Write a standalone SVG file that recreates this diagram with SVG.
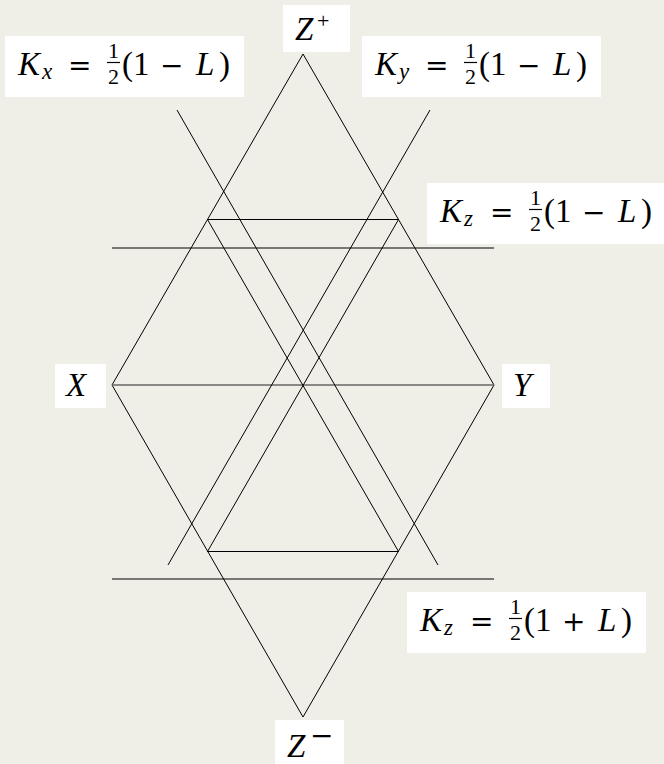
<svg xmlns="http://www.w3.org/2000/svg" width="664" height="764" viewBox="0 0 664 764">
<style>
.bg{fill:#efeee7}
.box{fill:#ffffff}
.ln{stroke:#000;stroke-width:1;fill:none}
.axis{stroke:#666;stroke-width:1.6;fill:none}
.bar{stroke:#000;stroke-width:1.2}
.t{font-family:'Liberation Serif','DejaVu Serif',serif;fill:#000;font-size:33px}
.it{font-style:italic}
.op{font-family:'DejaVu Serif','Liberation Serif',serif;font-size:28px;font-style:normal}
.sm{font-family:'Liberation Serif','DejaVu Serif',serif;fill:#000;font-size:22px;text-anchor:middle}
.sub{font-size:23px;font-style:italic}
</style>
<rect class="bg" x="0" y="0" width="664" height="764"/>
<g id="connectors">
<polygon class="ln" points="303,54 494,385 303,717 112,385"/>
<line class="axis" x1="112" y1="385" x2="494" y2="385"/>
<line class="ln" x1="112" y1="248" x2="494" y2="248"/>
<line class="ln" x1="112" y1="579" x2="494" y2="579"/>
<line class="ln" x1="207.5" y1="219.5" x2="398.5" y2="219.5"/>
<line class="ln" x1="207.5" y1="551.5" x2="398.5" y2="551.5"/>
<line class="ln" x1="207.5" y1="219.5" x2="398.5" y2="551.5"/>
<line class="ln" x1="398.5" y1="219.5" x2="207.5" y2="551.5"/>
<line class="ln" x1="177" y1="110" x2="438" y2="565"/>
<line class="ln" x1="430" y1="110" x2="168" y2="565"/>
</g>
<g id="Zplus">
<rect class="box" x="283" y="5" width="67" height="47"/>
<text class="t" y="40"><tspan class="it" x="295">Z</tspan><tspan font-size="22" x="317" y="28">+</tspan></text>
</g>
<g id="Zminus">
<rect class="box" x="275" y="720" width="69" height="44"/>
<text class="t" y="757"><tspan class="it" x="287">Z</tspan><tspan class="op" font-size="19" x="310" y="745">−</tspan></text>
</g>
<g id="X">
<rect class="box" x="55" y="364" width="51" height="44"/>
<text class="t it" x="66" y="396">X</text>
</g>
<g id="Y">
<rect class="box" x="502" y="364" width="48" height="44"/>
<text class="t it" x="513" y="396">Y</text>
</g>
<g id="Kx" transform="translate(5,36)">
<rect class="box" x="0" y="0" width="239" height="61"/>
<text class="t" y="39"><tspan class="it" x="13">K</tspan><tspan class="sub" x="37" y="43">x</tspan><tspan class="op" x="63" y="39">=</tspan><tspan x="117">(1</tspan><tspan class="op" x="155">−</tspan><tspan class="it" x="191">L</tspan><tspan x="214">)</tspan></text>
<text class="sm" x="108.5" y="22">1</text>
<line class="bar" x1="102" y1="26.5" x2="115" y2="26.5"/>
<text class="sm" x="108.5" y="48">2</text>
</g>
<g id="Ky" transform="translate(362,36)">
<rect class="box" x="0" y="0" width="239" height="61"/>
<text class="t" y="39"><tspan class="it" x="13">K</tspan><tspan class="sub" x="37" y="43">y</tspan><tspan class="op" x="63" y="39">=</tspan><tspan x="117">(1</tspan><tspan class="op" x="155">−</tspan><tspan class="it" x="191">L</tspan><tspan x="214">)</tspan></text>
<text class="sm" x="108.5" y="22">1</text>
<line class="bar" x1="102" y1="26.5" x2="115" y2="26.5"/>
<text class="sm" x="108.5" y="48">2</text>
</g>
<g id="Kz_upper" transform="translate(427,183)">
<rect class="box" x="0" y="0" width="239" height="61"/>
<text class="t" y="39"><tspan class="it" x="13">K</tspan><tspan class="sub" x="37" y="43">z</tspan><tspan class="op" x="63" y="39">=</tspan><tspan x="117">(1</tspan><tspan class="op" x="155">−</tspan><tspan class="it" x="191">L</tspan><tspan x="214">)</tspan></text>
<text class="sm" x="108.5" y="22">1</text>
<line class="bar" x1="102" y1="26.5" x2="115" y2="26.5"/>
<text class="sm" x="108.5" y="48">2</text>
</g>
<g id="Kz_lower" transform="translate(407,592)">
<rect class="box" x="0" y="0" width="239" height="61"/>
<text class="t" y="39"><tspan class="it" x="13">K</tspan><tspan class="sub" x="37" y="43">z</tspan><tspan class="op" x="63" y="39">=</tspan><tspan x="117">(1</tspan><tspan class="op" x="155">+</tspan><tspan class="it" x="191">L</tspan><tspan x="214">)</tspan></text>
<text class="sm" x="108.5" y="22">1</text>
<line class="bar" x1="102" y1="26.5" x2="115" y2="26.5"/>
<text class="sm" x="108.5" y="48">2</text>
</g>
</svg>
